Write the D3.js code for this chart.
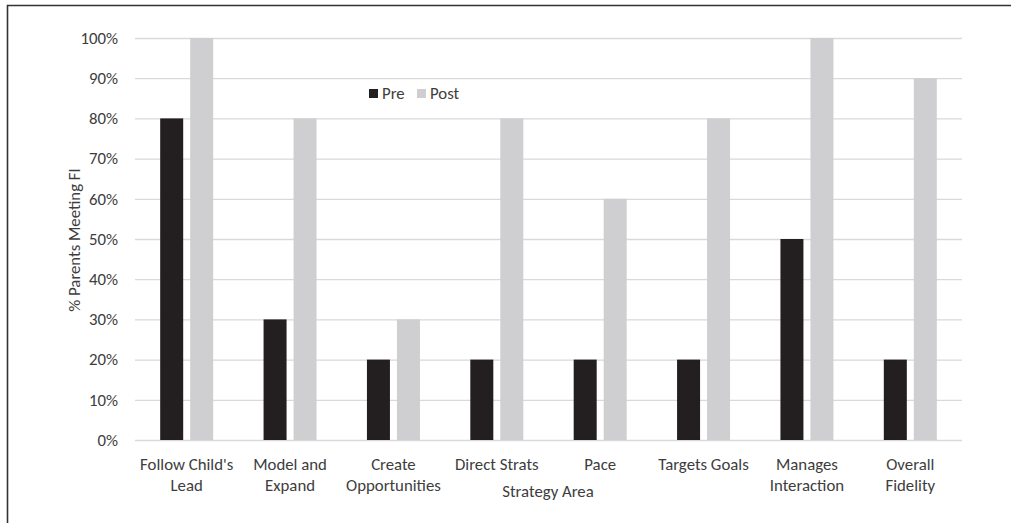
<!DOCTYPE html>
<html>
<head>
<meta charset="utf-8">
<script src="https://cdn.jsdelivr.net/npm/d3@7"></script>
<style>
  body { margin: 0; background: #fff; }
  text { font-family: Carlito, Calibri, Lato, sans-serif; fill: #3d3d3d; }
</style>
</head>
<body>
<svg id="chart" width="1011" height="523"></svg>
<script>
const categories = ["Follow Child's\nLead", "Model and\nExpand", "Create\nOpportunities", "Direct Strats",
    "Pace", "Targets Goals", "Manages\nInteraction", "Overall\nFidelity"];
const seriesNames = ["Pre", "Post"];
const preValues = [80, 30, 20, 20, 20, 20, 50, 20];
const postValues = [100, 80, 30, 80, 60, 80, 100, 90];
const yTicks = [0, 10, 20, 30, 40, 50, 60, 70, 80, 90, 100];

const colors = {Pre: "#231f20", Post: "#cfcfd1"};
const fs = 16.8;

const svg = d3.select("#chart");

// frame (left + top edge only, as in the scan)
svg.append("path")
    .attr("d", "M7.5,523 V5.5 H1011")
    .attr("fill", "none")
    .attr("stroke", "#333")
    .attr("stroke-width", 1.6);

const x0 = d3.scaleBand().domain(categories).range([135, 962]);
const bw = x0.bandwidth();
const x1 = d3.scaleBand().domain(seriesNames)
    .range([bw / 2 - 26.5, bw / 2 + 26.5]).paddingInner(0.233);
const y = d3.scaleLinear().domain([0, 100]).range([440, 38]);

// gridlines
svg.append("g")
    .attr("transform", "translate(135,0)")
    .call(d3.axisLeft(y).tickValues(yTicks).tickSize(-(962 - 135)).tickFormat(""))
    .call(g => g.select(".domain").remove())
    .call(g => g.selectAll("line").attr("stroke", "#d9d9d9").attr("stroke-width", 1.3));

// y tick labels
svg.append("g")
    .attr("transform", "translate(118,0)")
    .call(d3.axisLeft(y).tickValues(yTicks).tickSize(0).tickFormat(d => d + "%"))
    .call(g => g.select(".domain").remove())
    .call(g => g.selectAll("text").attr("font-size", fs).attr("fill", "#3d3d3d").attr("x", 0)
        .style("font-family", "Carlito, Calibri, Lato, sans-serif"));

const rows = categories.map((c, i) => ({cat: c, Pre: preValues[i], Post: postValues[i]}));

const groups = svg.selectAll(".cat")
    .data(rows)
    .enter()
    .append("g")
    .attr("class", "cat")
    .attr("transform", d => "translate(" + x0(d.cat) + ",0)");

groups.selectAll("rect")
    .data(d => seriesNames.map(s => ({s: s, v: d[s]})))
    .enter()
    .append("rect")
    .attr("x", d => x1(d.s))
    .attr("width", x1.bandwidth())
    .attr("y", d => y(d.v))
    .attr("height", d => y(0) - y(d.v))
    .attr("fill", d => colors[d.s]);

// category labels
groups.append("text")
    .attr("text-anchor", "middle")
    .attr("font-size", fs)
    .selectAll("tspan")
    .data(d => d.cat.split("\n"))
    .enter()
    .append("tspan")
    .attr("x", bw / 2)
    .attr("y", (d, i) => 470 + i * 21)
    .text(d => d);

// axis titles
svg.append("text")
    .attr("x", 548).attr("y", 497)
    .attr("text-anchor", "middle")
    .attr("font-size", fs)
    .text("Strategy Area");

svg.append("text")
    .attr("transform", "translate(80,240) rotate(-90)")
    .attr("text-anchor", "middle")
    .attr("font-size", fs)
    .text("% Parents Meeting FI");

// legend
const legend = svg.append("g").attr("transform", "translate(369,87)");
const leg = legend.selectAll("g")
    .data(seriesNames)
    .enter()
    .append("g")
    .attr("transform", (d, i) => "translate(" + (i * 48) + ",0)");
leg.append("rect")
    .attr("width", 9).attr("height", 9).attr("y", 2)
    .attr("fill", d => colors[d]);
leg.append("text")
    .attr("x", 13).attr("y", 12)
    .attr("font-size", fs)
    .text(d => d);
</script>
</body>
</html>
